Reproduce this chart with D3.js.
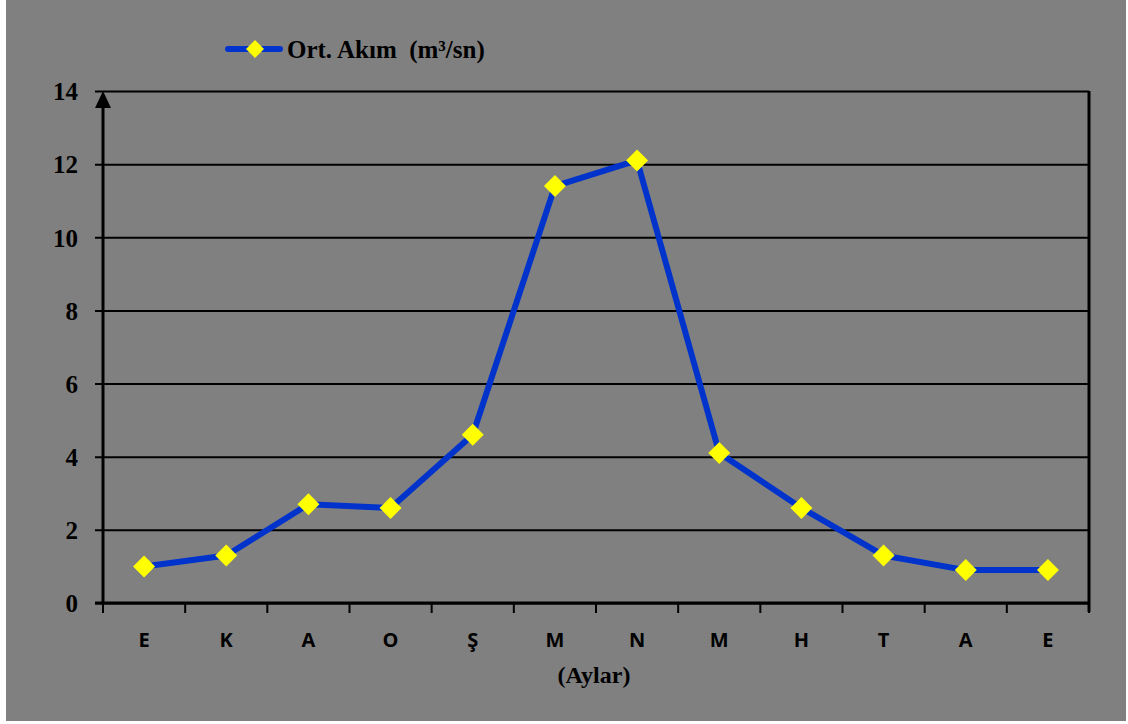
<!DOCTYPE html>
<html>
<head>
<meta charset="utf-8">
<script src="https://cdn.jsdelivr.net/npm/d3@7"></script>
<style>
  html, body { margin: 0; padding: 0; background: #ffffff; }
  svg { display: block; }
</style>
</head>
<body>
<svg id="chart" width="1128" height="724"></svg>
<script>
// Monthly mean discharge, water year starting in October (Ekim ... Eylül)
const months = ["E", "K", "A", "O", "Ş", "M", "N", "M", "H", "T", "A", "E"];
const flow = [1.0, 1.3, 2.7, 2.6, 4.6, 11.4, 12.1, 4.1, 2.6, 1.3, 0.9, 0.9];
const yTicks = [0, 2, 4, 6, 8, 10, 12, 14];
const seriesName = "Ort. Akım  (m³/sn)";
const axisTitle = "(Aylar)";

const svg = d3.select("#chart");
const W = 1128, H = 724;
const plot = { left: 103, right: 1089, top: 91, bottom: 603 };

// grey chart background with thin white margin
svg.append("rect").attr("x", 0).attr("y", 0).attr("width", W).attr("height", H).attr("fill", "#ffffff");
svg.append("rect").attr("x", 6).attr("y", 0).attr("width", 1120).attr("height", 721).attr("fill", "#808080");

const idx = months.map((d, i) => i);
const x = d3.scaleBand().domain(idx).range([plot.left, plot.right]);
const y = d3.scaleLinear().domain([0, 14]).range([plot.bottom, plot.top]);

const serif = "'Liberation Serif', 'Times New Roman', serif";
const sans = "'Open Sans', 'Liberation Sans', sans-serif";

// horizontal gridlines with outward ticks
const yAxis = d3.axisLeft(y).tickValues(yTicks).tickSize(-(plot.right - plot.left)).tickPadding(25).tickFormat(d3.format("d"));
const gy = svg.append("g").attr("transform", `translate(${plot.left},0)`).call(yAxis);
gy.select(".domain").remove();
gy.selectAll(".tick line").attr("x1", -8).attr("stroke", "#000").attr("stroke-width", 2);
gy.selectAll(".tick text")
  .attr("font-family", serif).attr("font-weight", "bold").attr("font-size", 25).attr("fill", "#000")
  .attr("dy", "0.35em");

// right border of the plot area
svg.append("line").attr("x1", plot.right).attr("x2", plot.right).attr("y1", plot.top).attr("y2", plot.bottom + 9)
  .attr("stroke", "#000").attr("stroke-width", 3);

// x axis: category ticks on band boundaries
const gx = svg.append("g").attr("transform", `translate(0,${plot.bottom})`);
gx.append("line").attr("x1", plot.left - 8).attr("x2", plot.right).attr("y1", 0).attr("y2", 0)
  .attr("stroke", "#000").attr("stroke-width", 3);
const bounds = idx.map(i => x(i)).concat([x(idx[idx.length - 1]) + x.bandwidth()]);
gx.selectAll("line.tk").data(bounds).join("line").attr("class", "tk")
  .attr("x1", d => d).attr("x2", d => d).attr("y1", 0).attr("y2", 10)
  .attr("stroke", "#000").attr("stroke-width", 2);
gx.selectAll("text").data(idx).join("text")
  .attr("x", i => x(i) + x.bandwidth() / 2).attr("y", 44)
  .attr("text-anchor", "middle")
  .attr("font-family", sans).attr("font-weight", "bold").attr("font-size", 20).attr("fill", "#000")
  .text(i => months[i]);

// vertical axis with arrow head
svg.append("line").attr("x1", plot.left).attr("x2", plot.left).attr("y1", plot.top + 12).attr("y2", plot.bottom)
  .attr("stroke", "#000").attr("stroke-width", 3);
svg.append("path")
  .attr("d", `M${plot.left},${plot.top} L${plot.left - 8},${plot.top + 17} L${plot.left + 8},${plot.top + 17} Z`)
  .attr("fill", "#000");

// axis title
svg.append("text").attr("x", 594).attr("y", 683).attr("text-anchor", "middle")
  .attr("font-family", serif).attr("font-weight", "bold").attr("font-size", 24).attr("fill", "#000")
  .text(axisTitle);

// series line
const line = d3.line().x(i => x(i) + x.bandwidth() / 2).y(i => y(flow[i]));
svg.append("path").datum(idx).attr("d", line)
  .attr("fill", "none").attr("stroke", "#0033cc").attr("stroke-width", 6).attr("stroke-linejoin", "round");

// diamond markers
const diamond = s => `M0,${-s} L${s},0 L0,${s} L${-s},0 Z`;
svg.selectAll("path.mk").data(idx).join("path").attr("class", "mk")
  .attr("transform", i => `translate(${x(i) + x.bandwidth() / 2},${y(flow[i])})`)
  .attr("d", diamond(11)).attr("fill", "#ffff00");

// legend
const lg = svg.append("g").attr("transform", "translate(226,49)");
lg.append("line").attr("x1", 2).attr("x2", 54).attr("y1", 0).attr("y2", 0)
  .attr("stroke", "#0033cc").attr("stroke-width", 6).attr("stroke-linecap", "round");
lg.append("path").attr("transform", "translate(29,0)").attr("d", diamond(9)).attr("fill", "#ffff00");
lg.append("text").attr("x", 61).attr("y", 0).attr("dy", "0.35em")
  .attr("font-family", serif).attr("font-weight", "bold").attr("font-size", 25).attr("fill", "#000")
  .attr("xml:space", "preserve").style("white-space", "pre")
  .text(seriesName);
</script>
</body>
</html>
